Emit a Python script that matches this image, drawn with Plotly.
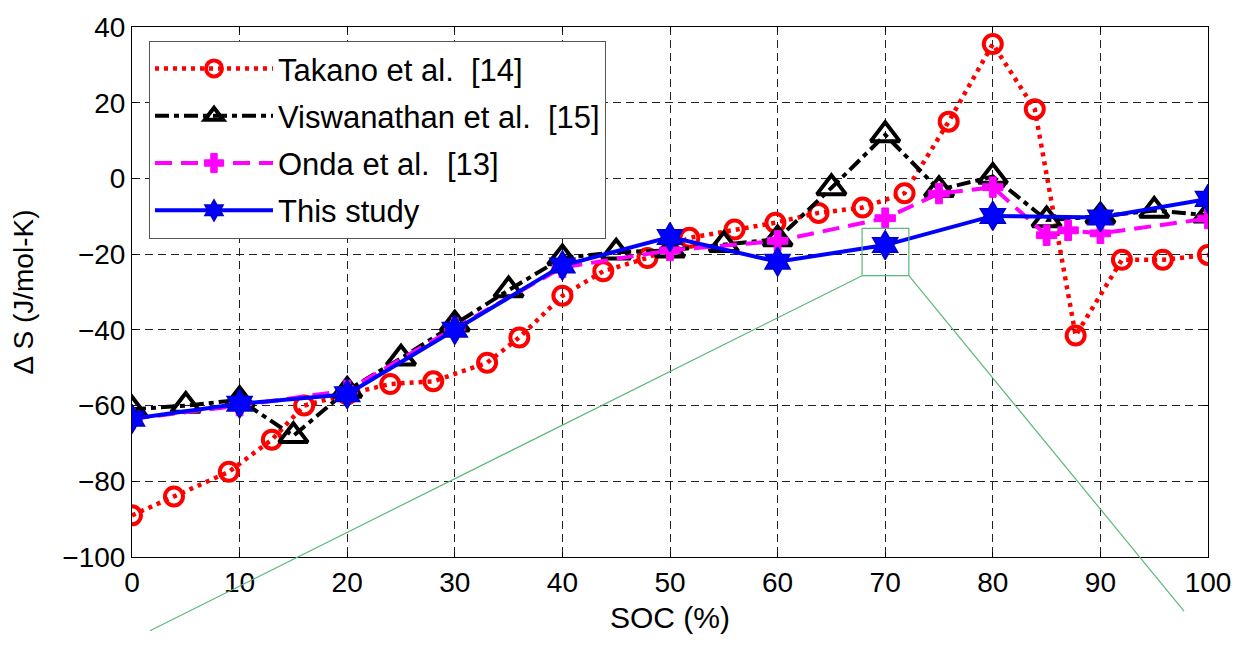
import plotly.graph_objects as go

# ---- data ----
takano_x = [0, 3.9, 9, 13, 16, 20, 24, 28, 33, 36, 40, 43.8, 47.9, 51.8, 56, 59.8,
            63.8, 67.9, 71.8, 75.9, 80, 83.9, 87.7, 92, 95.8, 100]
takano_y = [-89, -84, -77.5, -69, -60, -57, -54.3, -53.6, -48.7, -42, -31, -24.5,
            -21, -15.7, -13.5, -11.7, -9.1, -7.7, -3.9, 15, 35.5, 18.3, -41.5,
            -21.5, -21.5, -20.2]

visw_x = [0, 5, 10, 15, 20, 25, 30, 35, 40, 45, 50, 55, 60, 65, 70, 75, 80, 85, 90, 95, 100]
visw_y = [-61, -60, -58.5, -68, -56, -47.5, -38.5, -29.5, -21, -19.5, -19, -17.5,
          -16, -2.5, 11.5, -3, 0.5, -11, -10, -8.5, -9.7]

onda_x = [0, 10, 20, 30, 40, 50, 60, 70, 75, 80, 85, 87, 90, 100]
onda_y = [-63.5, -60, -56, -39.5, -23.5, -19, -16.5, -10.5, -4, -2.3, -15, -13.7, -14.5, -10.6]

study_x = [0, 10, 20, 30, 40, 50, 60, 70, 80, 90, 100]
study_y = [-63.5, -59.5, -57, -40, -23, -15.5, -22, -17.6, -9.9, -10.3, -5.4]

x_ticks = [0, 10, 20, 30, 40, 50, 60, 70, 80, 90, 100]
y_ticks = [-100, -80, -60, -40, -20, 0, 20, 40]
x_range = [0, 100]
y_range = [-100, 40]

# zoom-box annotation (data coords of the box) and where its guide lines end (paper coords)
zoom_box_x = [67.85, 72.2]
zoom_box_y = [-25.7, -13.2]
guide_end_left = (0.0167, -0.139)
guide_end_right = (0.9777, -0.102)

FONT = "Liberation Sans, Arial, sans-serif"

fig = go.Figure()

fig.add_trace(go.Scatter(
    x=takano_x, y=takano_y, mode="lines+markers",
    name="Takano et al.  [14]", legendgroup="a",
    line=dict(color="#ff0000", width=4.5, dash="4px,5px"),
    marker=dict(symbol="circle-open", size=18, color="#ff0000", line=dict(width=4, color="#ff0000")),
))
fig.add_trace(go.Scatter(
    x=visw_x, y=visw_y, mode="lines+markers",
    name="Viswanathan et al.  [15]", legendgroup="b",
    line=dict(color="#000000", width=4, dash="14px,5px,5px,5px"),
    marker=dict(symbol="triangle-up-open", size=25, color="#000000", line=dict(width=4, color="#000000")),
))
fig.add_trace(go.Scatter(
    x=onda_x, y=onda_y, mode="lines+markers",
    name="Onda et al.  [13]", legendgroup="c",
    line=dict(color="#ff00ff", width=4, dash="17px,9px"),
    marker=dict(symbol="cross", size=17, color="#ff00ff", line=dict(width=1, color="#ff00ff")),
))
fig.add_trace(go.Scatter(
    x=study_x, y=study_y, mode="lines+markers",
    name="This study", legendgroup="d",
    line=dict(color="#0000ff", width=4),
    marker=dict(symbol="hexagram", size=22, color="#0000ff", line=dict(width=1.5, color="#0000cc")),
))

# zoom box + guide lines (annotation overlay)
def to_paper(xv, yv):
    px = (xv - x_range[0]) / (x_range[1] - x_range[0])
    py = (yv - y_range[0]) / (y_range[1] - y_range[0])
    return px, py

green = "#5cb87a"
bx0, by0 = to_paper(zoom_box_x[0], zoom_box_y[0])
bx1, by1 = to_paper(zoom_box_x[1], zoom_box_y[1])
fig.add_shape(type="rect", xref="paper", yref="paper", x0=bx0, y0=by0, x1=bx1, y1=by1,
              line=dict(color=green, width=1.2), layer="above")
fig.add_shape(type="line", xref="paper", yref="paper", x0=bx0, y0=by0,
              x1=guide_end_left[0], y1=guide_end_left[1], line=dict(color=green, width=1.2))
fig.add_shape(type="line", xref="paper", yref="paper", x0=bx1, y0=by0,
              x1=guide_end_right[0], y1=guide_end_right[1], line=dict(color=green, width=1.2))

axis_common = dict(
    showline=True, linecolor="black", linewidth=1, mirror="ticks",
    ticks="inside", ticklen=5, tickcolor="black",
    showgrid=True, gridcolor="#222222", gridwidth=1, griddash="8px,5px",
    zeroline=False,
    tickfont=dict(family=FONT, size=28, color="black"),
)

fig.update_layout(
    width=1249, height=646,
    margin=dict(l=132, r=41, t=18, b=89),
    paper_bgcolor="white", plot_bgcolor="white",
    font=dict(family=FONT, color="black"),
    xaxis=dict(range=x_range, tickvals=x_ticks, **axis_common,
               title=dict(text="SOC (%)", font=dict(family=FONT, size=30), standoff=10)),
    yaxis=dict(range=y_range, tickvals=y_ticks, **axis_common,
               title=dict(text="\u0394 S (J/mol-K)", font=dict(family=FONT, size=28), standoff=20)),
    legend=dict(
        x=0.0158, y=0.974, xanchor="left", yanchor="top",
        bgcolor="white", bordercolor="#555555", borderwidth=1,
        font=dict(family=FONT, size=31, color="black"),
        tracegroupgap=4, itemwidth=118,
    ),
    showlegend=True,
)

fig.write_html("out.html")
